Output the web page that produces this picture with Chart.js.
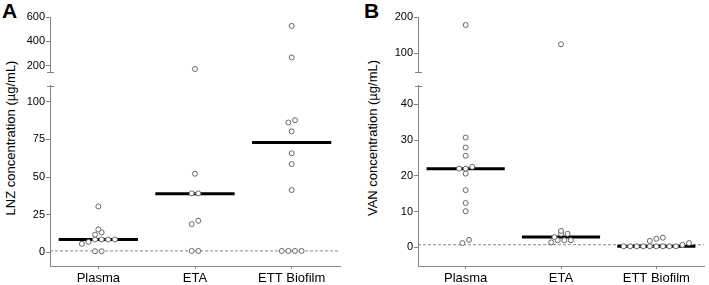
<!DOCTYPE html>
<html><head><meta charset="utf-8">
<script src="https://cdn.jsdelivr.net/npm/chart.js@4"></script>
<style>
html,body{margin:0;padding:0;background:#fff;}
#wrap{position:relative;width:709px;height:285px;overflow:hidden;font-family:"Liberation Sans",Arial,sans-serif;background:#fff;}
canvas{position:absolute;z-index:2;}
.ylab{position:absolute;z-index:1;font-size:13px;color:#000;white-space:nowrap;transform:translate(-50%,-50%) rotate(-90deg);}
.plab{position:absolute;z-index:1;font-size:21px;font-weight:bold;line-height:21px;color:#000;}
</style></head><body>
<div id="wrap">
<div class="plab" style="left:2px;top:0px">A</div>
<div class="plab" style="left:364px;top:0px">B</div>
<div class="ylab" style="left:10px;top:138px">LNZ concentration (µg/mL)</div>
<div class="ylab" style="left:372px;top:138px">VAN concentration (µg/mL)</div>
<canvas id="aTop" width="345" height="80" style="left:0px;top:0px"></canvas>
<canvas id="aBot" width="345" height="207" style="left:0px;top:78px"></canvas>
<canvas id="bTop" width="341" height="80" style="left:368px;top:0px"></canvas>
<canvas id="bBot" width="341" height="207" style="left:368px;top:78px"></canvas>
</div>
<script>
// ---------- data ----------
const categories = ['Plasma', 'ETA', 'ETT Biofilm'];

const lnzPlasma  = [30.5, 15.3, 13.3, 11.8, 8.6, 8.6, 8.6, 8.6, 7.0, 5.7, 0.8, 0.8];
const lnzETA     = [175, 52.2, 39.2, 39.2, 21, 18.8, 1, 1];
const lnzBiofilm = [527, 269, 87.7, 86.2, 80.3, 65.8, 58.6, 41.4, 1, 1, 1, 1];
const lnzMedians = [8.6, 39, 73];
const lnzLimit   = 1;
const lnzTopTicks    = [200, 400, 600];
const lnzBottomTicks = [0, 25, 50, 75, 100];

const vanPlasma  = [178, 30.7, 27.9, 25.6, 22.5, 22, 22, 20.6, 16, 12.4, 10.1, 2.1, 1.2];
const vanETA     = [125, 4.6, 3.8, 3.8, 2.9, 2.0, 2.0, 2.0, 1.4];
const vanBiofilm = [2.7, 2.4, 1.8, 1.2, 0.7, 0.3, 0.3, 0.3, 0.3, 0.3, 0.3, 0.3, 0.3, 0.3];
const vanMedians = [22, 2.9, 0.3];
const vanLimit   = 0.75;
const vanTopTicks    = [100, 200];
const vanBottomTicks = [0, 10, 20, 30, 40];

// ---------- setup ----------
const FONT = '"Liberation Sans", Arial, sans-serif';
Chart.defaults.font.family = FONT;
Chart.defaults.color = '#000';
const AXIS = '#858585';

// axis-break caps
const capPlugin = {
  id: 'cap',
  afterDraw(chart, args, opts) {
    if (!opts || !opts.where) return;
    const ctx = chart.ctx, a = chart.chartArea;
    const y = Math.round(opts.where === 'bottom' ? a.bottom : a.top) + 0.5;
    const x = Math.round(a.left);
    ctx.save();
    ctx.strokeStyle = AXIS; ctx.lineWidth = 1;
    ctx.beginPath(); ctx.moveTo(x - 3, y); ctx.lineTo(x + 4, y); ctx.stroke();
    ctx.restore();
  }
};
// y tick labels for the upper (broken) segments, placed through the chart's y scale
const topLabelPlugin = {
  id: 'topLabels',
  afterDraw(chart, args, opts) {
    if (!opts || !opts.enabled) return;
    const s = chart.scales.y, ctx = chart.ctx;
    ctx.save();
    ctx.font = '11px ' + FONT;
    ctx.fillStyle = '#000';
    ctx.textAlign = 'right';
    ctx.textBaseline = 'middle';
    s.ticks.forEach(t => ctx.fillText(String(t.value), s.right - 5, s.getPixelForValue(t.value)));
    ctx.restore();
  }
};
Chart.register(capPlugin, topLabelPlugin);

function makeChart(id, groups, medians, limit, ticks, range, isBottom, rightPad) {
  const datasets = [{
    type: 'scatter', data: [], order: 0,
    pointRadius: 2.5, pointBorderWidth: 1, pointBorderColor: '#666', pointBackgroundColor: '#fff',
    borderColor: '#666', backgroundColor: '#fff'
  }];
  if (isBottom) {
    medians.forEach((m, i) => datasets.push({
      type: 'line', data: [{x: i - 0.41, y: m}, {x: i + 0.41, y: m}],
      borderColor: '#000', borderWidth: 3, pointRadius: 0, order: 2
    }));
    datasets.push({
      type: 'line', data: [{x: -0.5, y: limit}, {x: 2.5, y: limit}],
      borderColor: '#8a8a8a', borderWidth: 1, borderDash: [3, 2], pointRadius: 0, order: 3
    });
  }
  const xScale = {
    type: 'linear', min: -0.5, max: 2.5, display: isBottom,
    afterBuildTicks: s => { s.ticks = categories.map((c, i) => ({value: i})); },
    ticks: {callback: v => categories[v], font: {size: 13}, padding: 2, maxRotation: 0, autoSkip: false},
    grid: {drawOnChartArea: false, tickLength: 3, color: AXIS},
    border: {color: AXIS}
  };
  if (isBottom) xScale.afterFit = s => { s.height = 19; };
  const chart = new Chart(document.getElementById(id), {
    type: 'scatter',
    data: {datasets},
    options: {
      responsive: false, animation: false, events: [],
      layout: {padding: isBottom ? {top: 6, right: rightPad, bottom: 0, left: 0}
                                 : {top: 17, right: rightPad, bottom: 8, left: 0}},
      plugins: {
        legend: {display: false}, tooltip: {enabled: false},
        cap: {where: isBottom ? 'top' : 'bottom'},
        topLabels: {enabled: !isBottom}
      },
      scales: {
        x: xScale,
        y: {
          min: range[0], max: range[1],
          afterBuildTicks: s => { s.ticks = ticks.map(v => ({value: v})); },
          afterFit: s => { s.width = 50; },
          ticks: {display: isBottom, font: {size: 11}, padding: 1, autoSkip: false},
          grid: {drawOnChartArea: false, drawTicks: true, tickLength: 4, color: AXIS},
          border: {color: AXIS}
        }
      }
    }
  });
  // beeswarm placement computed through the chart's own scales
  const ys = chart.scales.y, unitPerPx = 3 / chart.chartArea.width, spacing = 6.6;
  const pts = [];
  groups.forEach((vals, i) => {
    const items = vals.filter(v => v >= range[0] && v <= range[1])
      .map(v => ({v, py: ys.getPixelForValue(v)})).sort((a, b) => a.v - b.v);
    const rows = [];
    items.forEach(p => {
      const r = rows[rows.length - 1];
      if (r && Math.abs(p.py - r[0].py) < 4.5) r.push(p); else rows.push([p]);
    });
    rows.forEach(r => r.forEach((p, j) => {
      pts.push({x: i + (j - (r.length - 1) / 2) * spacing * unitPerPx, y: p.v});
    }));
  });
  chart.data.datasets[0].data = pts;
  chart.update('none');
  return chart;
}

const lnzGroups = [lnzPlasma, lnzETA, lnzBiofilm];
const vanGroups = [vanPlasma, vanETA, vanBiofilm];
makeChart('aTop', lnzGroups, lnzMedians, lnzLimit, lnzTopTicks, [150, 600], false, 5);
makeChart('aBot', lnzGroups, lnzMedians, lnzLimit, lnzBottomTicks, [-9, 110.7], true, 5);
makeChart('bTop', vanGroups, vanMedians, vanLimit, vanTopTicks, [49, 200], false, 2);
makeChart('bBot', vanGroups, vanMedians, vanLimit, vanBottomTicks, [-5.2, 45.2], true, 2);
</script>
</body></html>
